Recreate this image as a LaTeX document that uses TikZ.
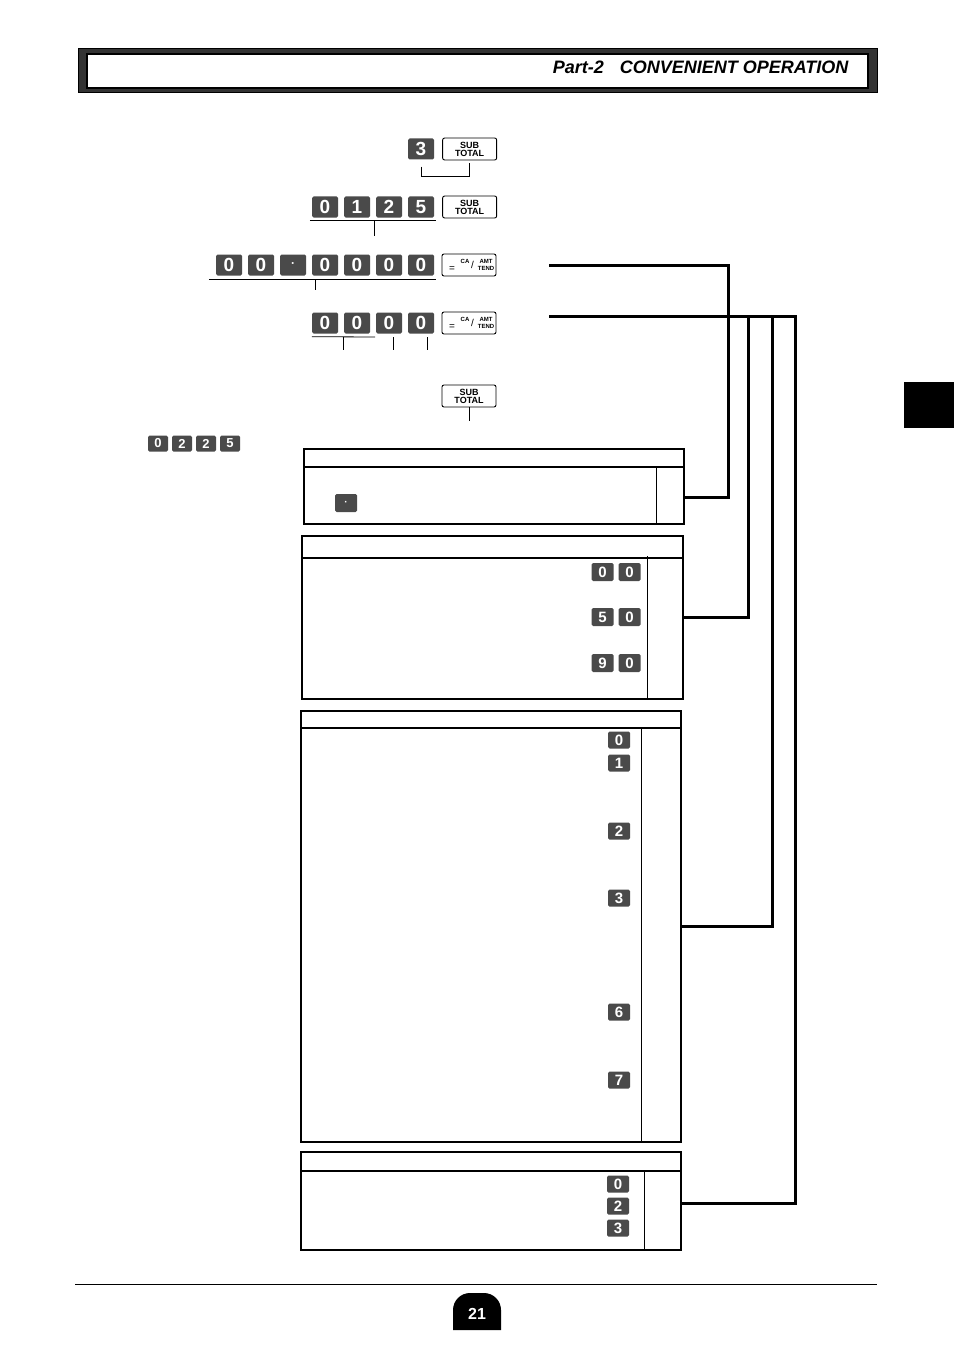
\documentclass[tikz,border=0pt]{standalone}
\usepackage{fontspec}
\setmainfont{Liberation Sans}
\usetikzlibrary{positioning,calc}
\definecolor{keygray}{HTML}{4A4A4A}
\tikzset{
  numkey/.style={fill=keygray, rounded corners=1.5pt, text=white, inner sep=0pt,
    font=\fontsize{19}{19}\selectfont\bfseries, minimum width=26pt, minimum height=21pt},
  smallkey/.style={numkey, font=\fontsize{15}{15}\selectfont\bfseries,
    minimum width=22pt, minimum height=18pt},
  tinykey/.style={numkey, font=\fontsize{13}{13}\selectfont\bfseries,
    minimum width=20pt, minimum height=16pt},
  fnkey/.style={draw, line width=0.9pt, rounded corners=2pt, fill=white,
    minimum width=54pt, minimum height=22pt, inner sep=0pt},
  subtotal/.style={fnkey, font=\fontsize{9}{8}\selectfont\bfseries, align=center},
  keytxt/.style={inner sep=0pt, font=\fontsize{6}{6}\selectfont\bfseries},
  tick/.style={line width=0.8pt},
  link/.style={line width=3pt},
  tabframe/.style={line width=1.6pt},
}
% CA/AMT TEND key: name, x, y
\newcommand\cakey[3]{%
  \node[fnkey] (#1) at (#2,#3) {};
  \node[inner sep=0pt, font=\fontsize{10}{10}\selectfont] at ([xshift=-17pt,yshift=-4pt]#1.center) {=};
  \node[keytxt] at ([xshift=-4pt,yshift=4pt]#1.center) {CA};
  \node[inner sep=0pt, font=\fontsize{10}{10}\selectfont] at ([xshift=3.5pt]#1.center) {/};
  \node[keytxt] at ([xshift=17pt,yshift=4pt]#1.center) {AMT};
  \node[keytxt] at ([xshift=17pt,yshift=-3.5pt]#1.center) {TEND};
}
\begin{document}
\begin{tikzpicture}[x=1pt, y=-1pt]
\useasboundingbox (0,0) rectangle (954,1351);
% header bar
\filldraw[fill=black!80, draw=black] (78,48) rectangle (877,92);
\filldraw[fill=white, draw=black, line width=1.2pt] (87,54) rectangle (868,88);
\node[anchor=base east, font=\fontsize{18}{18}\selectfont\bfseries\itshape] (title) at (852,74)
  {Part-2\hspace{16pt}CONVENIENT OPERATION};
\fill (904,382) rectangle (954,428);

% key sequences
\node[numkey] (r1k1) at (421,149) {3};
\node[subtotal, right=8pt of r1k1] (st1) {SUB\\TOTAL};
\draw[tick] ([yshift=-7pt]r1k1.south) -- ++(0,10) -| ([yshift=-3pt]st1.south);

\foreach \d [count=\i] in {0,1,2,5}
  \node[numkey] (r2k\i) at ({293+32*\i},207) {\d};
\node[subtotal, right=8pt of r2k4] (st2) {SUB\\TOTAL};
\draw[tick] ([xshift=-2pt,yshift=-3pt]r2k1.south west) -- ([xshift=2pt,yshift=-3pt]r2k4.south east);
\draw[tick] (374,221) -- ++(0,15);

\foreach \d [count=\i] in {0,0,{\fontsize{12}{12}\selectfont ·},0,0,0,0}
  \node[numkey] (r3k\i) at ({197+32*\i},265) {\d};
\cakey{ca3}{469}{265}
\draw[tick] ([xshift=-7pt,yshift=-4pt]r3k1.south west) -- ([xshift=2pt,yshift=-4pt]r3k7.south east);
\draw[tick] (315,280) -- ++(0,10);

\foreach \d [count=\i] in {0,0,0,0}
  \node[numkey] (r4k\i) at ({293+32*\i},323) {\d};
\cakey{ca4}{469}{323}
\draw[tick] ([yshift=-3pt]r4k1.south west) -- (375,337);
\draw[tick] (343,337) -- ++(0,13);
\draw[tick] (393,337) -- ++(0,13);
\draw[tick] (427,337) -- ++(0,13);

\node[subtotal] (st5) at (469,396) {SUB\\TOTAL};
\draw[tick] (st5.south) -- ++(0,14);

\foreach \d [count=\i] in {0,2,2,5}
  \node[tinykey] (lk\i) at ({134+24*\i},443.5) {\d};

% tables
\draw[tabframe] (304,449) rectangle (684,524);
\draw[line width=2pt] (304,467) -- (684,467);
\draw[thin] (656,467) -- (656,524);
\node[smallkey] (dotk) at (346,503) {\fontsize{10}{10}\selectfont ·};

\draw[tabframe] (302,536) rectangle (683,699);
\draw[line width=1.2pt] (302,558) -- (683,558);
\draw[thin] (647,556) -- (647,699);
\foreach \a/\b/\y [count=\i] in {0/0/572, 5/0/617, 9/0/663} {
  \node[smallkey] (t2a\i) at (602.5,\y) {\a};
  \node[smallkey] (t2b\i) at (629.5,\y) {\b};
}

\draw[tabframe] (301,711) rectangle (681,1142);
\draw[line width=1.6pt] (301,728) -- (681,728);
\draw[thin] (641,728) -- (641,1142);
\foreach \d/\y in {0/740, 1/763, 2/831, 3/898, 6/1012, 7/1080}
  \node[smallkey, minimum height=17pt] (t3k\d) at (619,\y) {\d};

\draw[tabframe] (301,1152) rectangle (681,1250);
\draw[line width=1.6pt] (301,1171) -- (681,1171);
\draw[thin] (644,1171) -- (644,1250);
\foreach \d/\y in {0/1184, 2/1206, 3/1228}
  \node[smallkey, minimum height=17pt] (t4k\d) at (618,\y) {\d};

% connectors
\coordinate (L1) at (549,265);
\coordinate (L2) at (549,316);
\draw[link] (L1) -- (728,265) |- (684,497);
\draw[link] (L2) -- (795,316) |- (681,1203);
\draw[link] (748,316) |- (683,617);
\draw[link] (772,316) |- (681,926);

% footer
\draw[line width=0.8pt] (75,1284) -- (877,1284);
\fill[rounded corners=17pt] (453,1330) -- (453,1293) -- (501,1293) [sharp corners] -- (501,1330) -- cycle;
\node[text=white, font=\fontsize{16}{16}\selectfont\bfseries] (pageno) at (477,1314) {21};
\end{tikzpicture}
\end{document}
